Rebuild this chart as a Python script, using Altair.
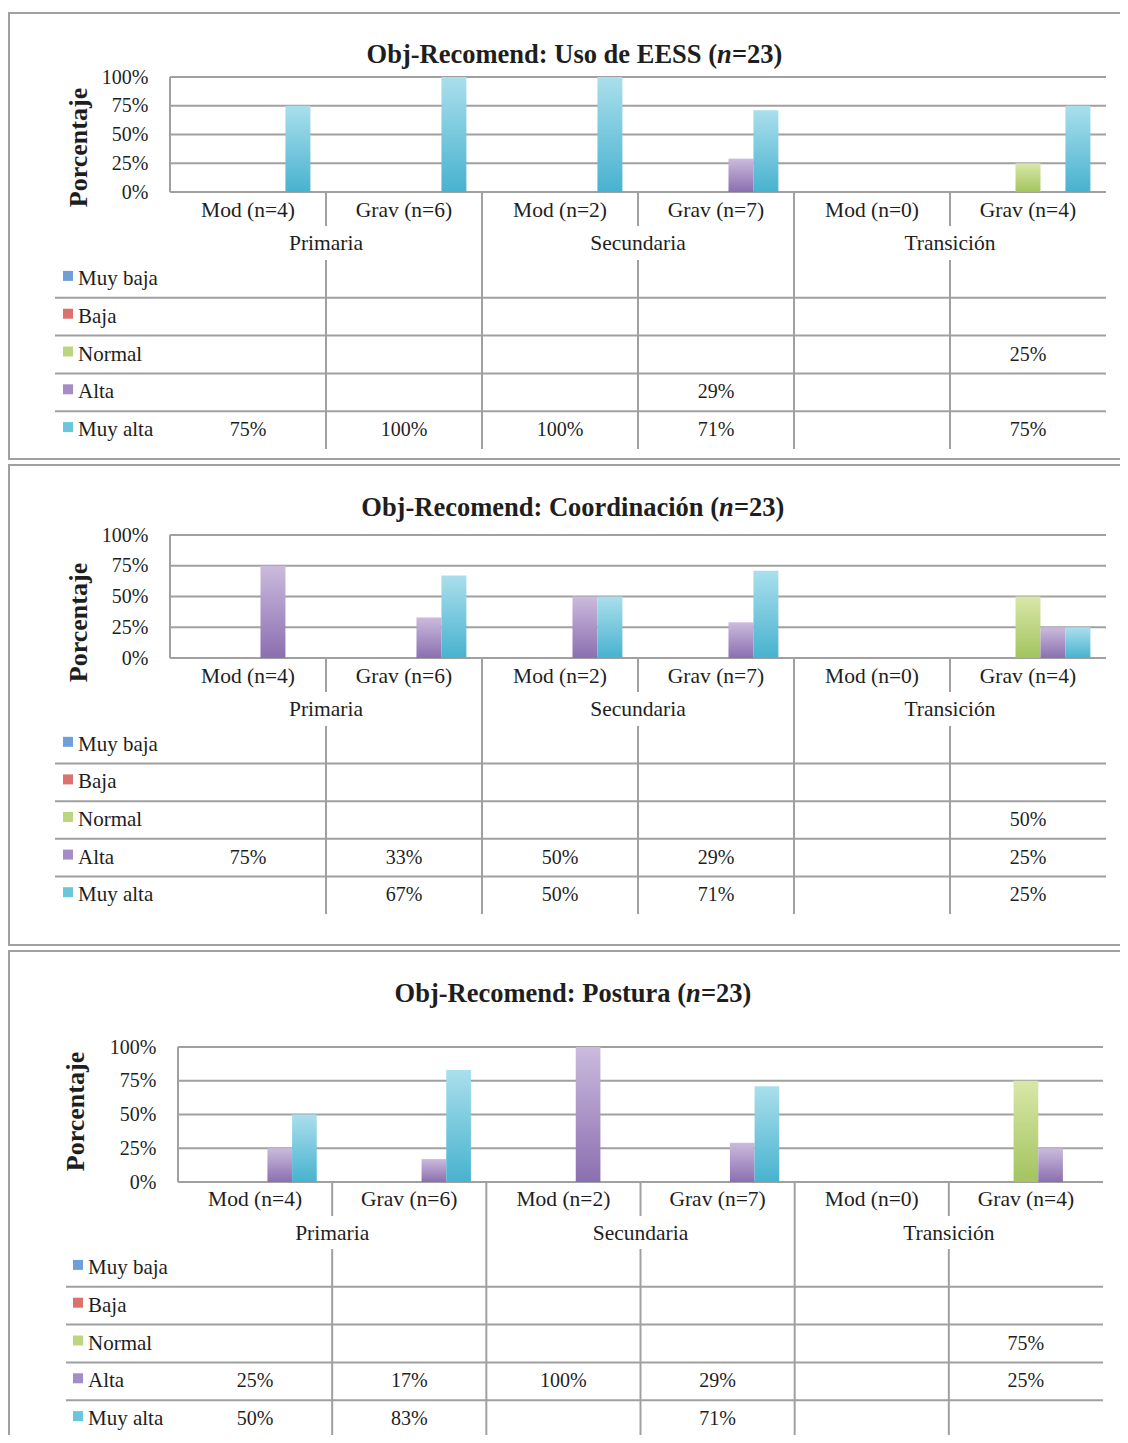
import altair as alt
import pandas as pd

SERIF = "Liberation Serif"
TEXT = "#1e1e1e"
LINE = "#a0a0a0"

groups = ["Primaria", "Secundaria", "Transición"]
categories = ["Mod (n=4)", "Grav (n=6)", "Mod (n=2)", "Grav (n=7)", "Mod (n=0)", "Grav (n=4)"]
category_group = ["Primaria", "Primaria", "Secundaria", "Secundaria", "Transición", "Transición"]
series = ["Muy baja", "Baja", "Normal", "Alta", "Muy alta"]
y_ticks = [0, 0.25, 0.5, 0.75, 1.0]

titles = ["Obj-Recomend: Uso de EESS", "Obj-Recomend: Coordinación", "Obj-Recomend: Postura"]
n_label = "=23)"

# percentages (None = empty cell)
eess_muy_baja = [None, None, None, None, None, None]
eess_baja = [None, None, None, None, None, None]
eess_normal = [None, None, None, None, None, 25]
eess_alta = [None, None, None, 29, None, None]
eess_muy_alta = [75, 100, 100, 71, None, 75]

coord_muy_baja = [None, None, None, None, None, None]
coord_baja = [None, None, None, None, None, None]
coord_normal = [None, None, None, None, None, 50]
coord_alta = [75, 33, 50, 29, None, 25]
coord_muy_alta = [None, 67, 50, 71, None, 25]

post_muy_baja = [None, None, None, None, None, None]
post_baja = [None, None, None, None, None, None]
post_normal = [None, None, None, None, None, 75]
post_alta = [25, 17, 100, 29, None, 25]
post_muy_alta = [50, 83, None, 71, None, None]

grad_top = ["#a6c8ec", "#f2a6a3", "#d9e7a8", "#cbbbdd", "#aadfec"]
grad_bottom = ["#4f81bd", "#c0504d", "#a3c45f", "#8b6fb0", "#48b2cf"]
swatch_colors = ["#6f9fd8", "#dd716d", "#bcd57f", "#a48dc4", "#6ac6dd"]

VIEW_W = 1112
VIEW_H = 1427

# layout of each framed panel (positions relative to the frame's top-left corner)
LAYOUTS = [
    dict(ox=1, oy=5, H=446, pl=161, pr=1097, pt=64, pb=179, ty=42, nx=708, cat_y=198, grp_y=231,
         tt=247, tb=436, tl=46, sw_x=59, leg_x=69, yt_x=69, yt_y=134),
    dict(ox=1, oy=457, H=480, pl=161, pr=1097, pt=70, pb=193, ty=43, nx=710, cat_y=212, grp_y=245,
         tt=261, tb=449, tl=46, sw_x=59, leg_x=69, yt_x=69, yt_y=157),
    dict(ox=1, oy=943, H=520, pl=169, pr=1094, pt=96, pb=231, ty=43, nx=677, cat_y=249, grp_y=283,
         tt=298, tb=487, tl=57, sw_x=69, leg_x=79, yt_x=66, yt_y=160),
]
SEP = 34


def panel_layers(title, vals, L):
    ox, oy = L["ox"], L["oy"]
    X = lambda v: v + ox
    Y = lambda v: v + oy
    rows = []
    for s, arr in zip(series, vals):
        for i, c in enumerate(categories):
            v = arr[i]
            if v is not None:
                rows.append({"category": c, "series": s, "value": v / 100, "text": f"{v}%"})
    df = pd.DataFrame(rows)

    xcat = alt.Scale(domain=categories, range=[X(L["pl"]), X(L["pr"])], paddingInner=0.2, paddingOuter=0.1)
    xoff = alt.Scale(domain=series, paddingInner=0, paddingOuter=0)
    yval = alt.Scale(domain=[0, 1], range=[Y(L["pb"]), Y(L["pt"])], nice=False, zero=True)
    xq = alt.Scale(domain=[0, len(categories)], range=[X(L["pl"]), X(L["pr"])], nice=False, zero=False)
    xgrp = alt.Scale(domain=groups, range=[X(L["pl"]), X(L["pr"])], paddingInner=0, paddingOuter=0)
    yrow = alt.Scale(domain=series, range=[Y(L["tt"]), Y(L["tb"])], paddingInner=0, paddingOuter=0)
    yrowq = alt.Scale(domain=[0, len(series)], range=[Y(L["tt"]), Y(L["tb"])], nice=False, zero=False)

    layers = []
    # frame
    layers.append(
        alt.Chart(pd.DataFrame({"f": [0]})).mark_rect(fill="transparent", stroke=LINE, strokeWidth=2, clip=True).encode(
            x=alt.value(ox), x2=alt.value(VIEW_W + 40), y=alt.value(oy), y2=alt.value(oy + L["H"]))
    )
    # gridlines + y axis labels
    layers.append(
        alt.Chart(pd.DataFrame({"tick": y_ticks})).mark_rule(color=LINE, strokeWidth=2).encode(
            y=alt.Y("tick:Q", scale=yval, axis=alt.Axis(
                orient="left", offset=-X(L["pl"]), values=y_ticks, format=".0%", grid=False,
                ticks=False, tickSize=0, domain=False, labelPadding=22, labelFont=SERIF,
                labelFontSize=20, labelColor=TEXT, title="Porcentaje", titleFont=SERIF,
                titleFontSize=26, titleFontWeight="bold", titleColor=TEXT, titleAngle=270,
                titleAlign="center", titleBaseline="middle",
                titleX=L["yt_x"] - L["pl"], titleY=Y(L["yt_y"]))),
            x=alt.value(X(L["pl"])), x2=alt.value(X(L["pr"])))
    )
    # plot left border
    layers.append(
        alt.Chart(pd.DataFrame({"x": [0], "y0": [0], "y1": [1]})).mark_rule(color=LINE, strokeWidth=2).encode(
            x=alt.X("x:Q", scale=xq, axis=None),
            y=alt.Y("y0:Q", scale=yval, axis=None), y2="y1:Q")
    )
    # bars, one layer per series (gradient fill)
    for s, top, bot in zip(series, grad_top, grad_bottom):
        sub = df[df.series == s] if len(df) else df
        if sub.empty:
            continue
        layers.append(
            alt.Chart(sub).mark_bar(fill=alt.Gradient(
                gradient="linear",
                stops=[alt.GradientStop(color=top, offset=0), alt.GradientStop(color=bot, offset=1)],
                x1=0, x2=0, y1=0, y2=1)).encode(
                x=alt.X("category:N", scale=xcat, axis=None),
                xOffset=alt.XOffset("series:N", scale=xoff),
                y=alt.Y("value:Q", scale=yval, axis=None))
        )
    # category labels
    cat_df = pd.DataFrame({"category": categories, "group": category_group})
    layers.append(
        alt.Chart(cat_df).mark_text(font=SERIF, fontSize=21.5, color=TEXT, baseline="middle").encode(
            x=alt.X("category:N", scale=xcat, axis=None), y=alt.value(Y(L["cat_y"])), text="category:N")
    )
    layers.append(
        alt.Chart(pd.DataFrame({"group": groups})).mark_text(font=SERIF, fontSize=21.5, color=TEXT, baseline="middle").encode(
            x=alt.X("group:N", scale=xgrp, axis=None), y=alt.value(Y(L["grp_y"])), text="group:N")
    )
    # separators
    bnd = pd.DataFrame({"b": list(range(1, len(categories)))})
    gb = []
    acc = 0
    for g in groups[:-1]:
        acc += category_group.count(g)
        gb.append(acc)
    gbnd = pd.DataFrame({"b": gb})
    layers.append(alt.Chart(bnd).mark_rule(color=LINE, strokeWidth=2).encode(
        x=alt.X("b:Q", scale=xq, axis=None), y=alt.value(Y(L["pb"])), y2=alt.value(Y(L["pb"] + SEP))))
    layers.append(alt.Chart(gbnd).mark_rule(color=LINE, strokeWidth=2).encode(
        x=alt.X("b:Q", scale=xq, axis=None), y=alt.value(Y(L["pb"] + SEP)), y2=alt.value(Y(L["tt"]))))
    layers.append(alt.Chart(bnd).mark_rule(color=LINE, strokeWidth=2).encode(
        x=alt.X("b:Q", scale=xq, axis=None), y=alt.value(Y(L["tt"])), y2=alt.value(Y(L["tb"]))))
    # table horizontal lines
    layers.append(alt.Chart(pd.DataFrame({"r": list(range(1, len(series)))})).mark_rule(color=LINE, strokeWidth=2).encode(
        y=alt.Y("r:Q", scale=yrowq, axis=None), x=alt.value(X(L["tl"])), x2=alt.value(X(L["pr"]))))
    # legend column
    sdf = pd.DataFrame({"series": series})
    layers.append(alt.Chart(sdf).mark_square(size=100, opacity=1, yOffset=-3).encode(
        x=alt.value(X(L["sw_x"])), y=alt.Y("series:N", scale=yrow, axis=None),
        color=alt.Color("series:N", scale=alt.Scale(domain=series, range=swatch_colors), legend=None)))
    layers.append(alt.Chart(sdf).mark_text(font=SERIF, fontSize=21, color=TEXT, align="left", baseline="middle").encode(
        x=alt.value(X(L["leg_x"])), y=alt.Y("series:N", scale=yrow, axis=None), text="series:N"))
    # table values
    if len(df):
        layers.append(alt.Chart(df).mark_text(font=SERIF, fontSize=20, color=TEXT, baseline="middle").encode(
            x=alt.X("category:N", scale=xcat, axis=None), y=alt.Y("series:N", scale=yrow, axis=None), text="text:N"))
    # title (italic n)
    tstyle = dict(font=SERIF, fontSize=26.5, fontWeight="bold", color=TEXT, baseline="middle")
    layers.append(alt.Chart(pd.DataFrame({"t": [title + " ("]})).mark_text(align="right", **tstyle).encode(
        x=alt.value(X(L["nx"])), y=alt.value(Y(L["ty"])), text="t:N"))
    layers.append(alt.Chart(pd.DataFrame({"t": ["n"]})).mark_text(align="left", fontStyle="italic", **tstyle).encode(
        x=alt.value(X(L["nx"])), y=alt.value(Y(L["ty"])), text="t:N"))
    layers.append(alt.Chart(pd.DataFrame({"t": [n_label]})).mark_text(align="left", **tstyle).encode(
        x=alt.value(X(L["nx"] + 15)), y=alt.value(Y(L["ty"])), text="t:N"))
    return layers


all_layers = []
all_layers += panel_layers(titles[0], [eess_muy_baja, eess_baja, eess_normal, eess_alta, eess_muy_alta], LAYOUTS[0])
all_layers += panel_layers(titles[1], [coord_muy_baja, coord_baja, coord_normal, coord_alta, coord_muy_alta], LAYOUTS[1])
all_layers += panel_layers(titles[2], [post_muy_baja, post_baja, post_normal, post_alta, post_muy_alta], LAYOUTS[2])

chart = alt.layer(*all_layers).resolve_scale(
    x="independent", y="independent", color="independent", xOffset="independent"
).properties(
    width=VIEW_W, height=VIEW_H, padding=0,
    autosize=alt.AutoSizeParams(type="none"),
).configure_view(strokeWidth=0)

chart.save("out.html", embed_options={"renderer": "svg", "actions": False})
